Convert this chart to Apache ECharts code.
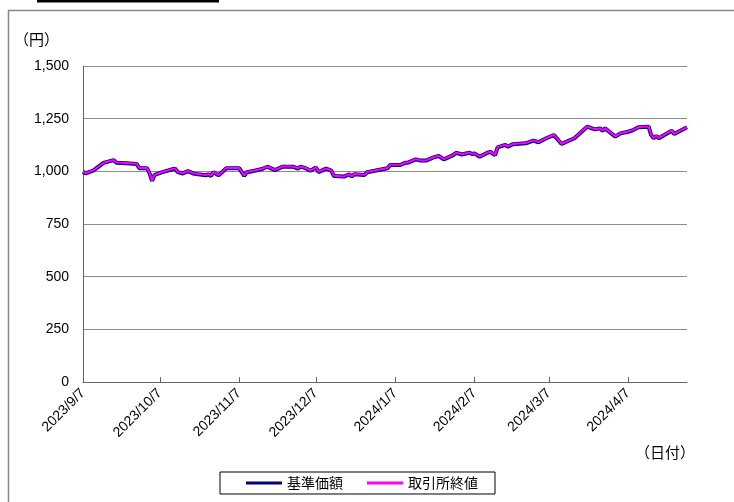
<!DOCTYPE html>
<html>
<head>
<meta charset="utf-8">
<script src="https://cdn.jsdelivr.net/npm/echarts@6/dist/echarts.min.js"></script>
<style>
    html, body { margin: 0; padding: 0; background: #fff; }
    #main { width: 734px; height: 502px; }
</style>
</head>
<body>
<div id="main"></div>
<script>
    // 軸の範囲（日次カテゴリ）
    const startDate = '2023/9/7'
    const endDate = '2024/4/30'
    const tickLabels = ['2023/9/7', '2023/10/7', '2023/11/7', '2023/12/7',
        '2024/1/7', '2024/2/7', '2024/3/7', '2024/4/7']
    const yTicks = [0, 250, 500, 750, 1000, 1250, 1500]

    // 読み取った日付と値
    const dates = [
        '2023/9/7', '2023/9/8', '2023/9/11', '2023/9/15', '2023/9/19', '2023/9/20', '2023/9/24',
        '2023/9/28', '2023/9/29', '2023/10/2', '2023/10/3', '2023/10/4', '2023/10/5', '2023/10/8',
        '2023/10/12', '2023/10/13', '2023/10/14', '2023/10/16', '2023/10/18', '2023/10/20', '2023/10/22',
        '2023/10/25', '2023/10/26', '2023/10/27', '2023/10/28', '2023/10/30', '2023/11/2', '2023/11/7',
        '2023/11/9', '2023/11/10', '2023/11/13', '2023/11/16', '2023/11/18', '2023/11/21', '2023/11/24',
        '2023/11/28', '2023/11/30', '2023/12/1', '2023/12/3', '2023/12/5', '2023/12/7', '2023/12/8',
        '2023/12/11', '2023/12/13', '2023/12/14', '2023/12/18', '2023/12/20', '2023/12/21', '2023/12/22',
        '2023/12/26', '2023/12/27', '2024/1/4', '2024/1/5', '2024/1/9', '2024/1/11', '2024/1/12',
        '2024/1/15', '2024/1/17', '2024/1/19', '2024/1/22', '2024/1/24', '2024/1/26', '2024/1/29',
        '2024/1/31', '2024/2/2', '2024/2/5', '2024/2/6', '2024/2/7', '2024/2/9', '2024/2/12',
        '2024/2/13', '2024/2/15', '2024/2/16', '2024/2/19', '2024/2/20', '2024/2/22', '2024/2/27',
        '2024/3/1', '2024/3/3', '2024/3/6', '2024/3/9', '2024/3/12', '2024/3/17', '2024/3/22',
        '2024/3/25', '2024/3/27', '2024/3/28', '2024/3/29', '2024/4/2', '2024/4/4', '2024/4/7',
        '2024/4/9', '2024/4/11', '2024/4/15', '2024/4/16', '2024/4/17', '2024/4/18', '2024/4/19',
        '2024/4/24', '2024/4/25', '2024/4/30'
    ]
    const navValues = [
        998, 990, 1003, 1040, 1053, 1041, 1038,
        1035, 1015, 1015, 990, 955, 983, 996,
        1010, 1013, 996, 990, 1001, 990, 986,
        981, 986, 978, 996, 981, 1015, 1015,
        978, 996, 1003, 1011, 1022, 1006, 1022,
        1022, 1013, 1022, 1015, 1003, 1019, 996,
        1013, 1003, 978, 975, 986, 975, 986,
        983, 996, 1015, 1030, 1030, 1041, 1041,
        1057, 1051, 1051, 1066, 1073, 1057, 1073,
        1088, 1080, 1088, 1082, 1085, 1069, 1088,
        1093, 1077, 1114, 1126, 1117, 1129, 1133,
        1146, 1138, 1157, 1172, 1130, 1157, 1212,
        1199, 1204, 1193, 1204, 1165, 1180, 1188,
        1196, 1209, 1212, 1172, 1157, 1168, 1157,
        1193, 1177, 1209
    ]
    const closeValues = [
        999, 991, 1004, 1041, 1054, 1042, 1039,
        1036, 1016, 1016, 991, 956, 984, 997,
        1011, 1014, 997, 991, 1002, 991, 987,
        982, 987, 979, 997, 982, 1016, 1016,
        979, 997, 1004, 1012, 1023, 1007, 1023,
        1023, 1014, 1023, 1016, 1004, 1020, 997,
        1014, 1004, 979, 976, 987, 976, 987,
        984, 997, 1016, 1031, 1031, 1042, 1042,
        1058, 1052, 1052, 1067, 1074, 1058, 1074,
        1089, 1081, 1089, 1083, 1086, 1070, 1089,
        1094, 1078, 1115, 1127, 1118, 1130, 1134,
        1147, 1139, 1158, 1173, 1131, 1158, 1213,
        1200, 1205, 1194, 1205, 1166, 1181, 1189,
        1197, 1210, 1213, 1173, 1158, 1169, 1158,
        1194, 1178, 1210
    ]

    function fmt(d) {
        return d.getFullYear() + '/' + (d.getMonth() + 1) + '/' + d.getDate()
    }

    // 日次カテゴリ（土日も含む）
    let days = []
    let cur = new Date(startDate)
    let last = new Date(endDate)
    while (cur <= last) {
        days.push(fmt(cur))
        cur.setDate(cur.getDate() + 1)
    }

    function toSeries(vals) {
        let m = {}
        dates.forEach((d, i) => { m[d] = vals[i] })
        return days.map(d => (m[d] !== undefined ? m[d] : '-'))
    }

    const isTick = (idx, val) => tickLabels.indexOf(val) >= 0
    const numFont = '"Liberation Sans", "Noto Sans CJK JP", sans-serif'
    const jpFont = '"Noto Sans CJK JP", sans-serif'

    let myChart = echarts.init(document.getElementById('main'))
    myChart.setOption({
        animation: false,
        backgroundColor: '#fff',
        textStyle: { fontFamily: numFont },
        grid: { left: 83, right: 47, top: 66, bottom: 120 },
        xAxis: {
            type: 'category',
            data: days,
            boundaryGap: false,
            axisLine: { lineStyle: { color: '#666', width: 1 } },
            axisTick: { inside: true, length: 5, interval: isTick, lineStyle: { color: '#666' } },
            axisLabel: {
                interval: isTick,
                rotate: 45,
                color: '#000',
                fontSize: 14,
                margin: 9
            },
            splitLine: { show: false }
        },
        yAxis: {
            type: 'value',
            min: yTicks[0],
            max: yTicks[yTicks.length - 1],
            interval: 250,
            axisLine: { show: true, lineStyle: { color: '#666', width: 1 } },
            axisTick: { show: false },
            axisLabel: {
                color: '#000',
                fontSize: 14,
                margin: 14,
                formatter: v => v.toLocaleString('en-US')
            },
            splitLine: { lineStyle: { color: '#8c8c8c', width: 1 } }
        },
        legend: {
            left: 220,
            top: 472,
            orient: 'horizontal',
            icon: 'rect',
            itemWidth: 36,
            itemHeight: 3,
            itemGap: 24,
            borderColor: '#000',
            borderWidth: 1,
            padding: [4, 17, 4, 26],
            textStyle: { fontSize: 14, color: '#000', fontFamily: jpFont },
            data: ['基準価額', '取引所終値']
        },
        series: [
            {
                name: '基準価額',
                type: 'line',
                data: toSeries(navValues),
                connectNulls: true,
                showSymbol: false,
                symbol: 'none',
                lineStyle: { color: '#000080', width: 4 },
                itemStyle: { color: '#000080' }
            },
            {
                name: '取引所終値',
                type: 'line',
                data: toSeries(closeValues),
                connectNulls: true,
                showSymbol: false,
                symbol: 'none',
                lineStyle: { color: '#ff00ff', width: 2 },
                itemStyle: { color: '#ff00ff' }
            }
        ],
        graphic: [
            {
                type: 'rect',
                shape: { x: 37, y: 0, width: 182, height: 2.5 },
                style: { fill: '#000' }
            },
            {
                type: 'rect',
                silent: true,
                shape: { x: 8.5, y: 10.5, width: 800, height: 600 },
                style: { fill: 'none', stroke: '#888', lineWidth: 1.5 }
            },
            {
                type: 'text',
                left: 14,
                top: 32,
                style: { text: '（円）', fontSize: 15, fill: '#000', fontFamily: jpFont }
            },
            {
                type: 'text',
                left: 635,
                top: 445,
                style: { text: '（日付）', fontSize: 15, fill: '#000', fontFamily: jpFont }
            }
        ]
    })
</script>
</body>
</html>
